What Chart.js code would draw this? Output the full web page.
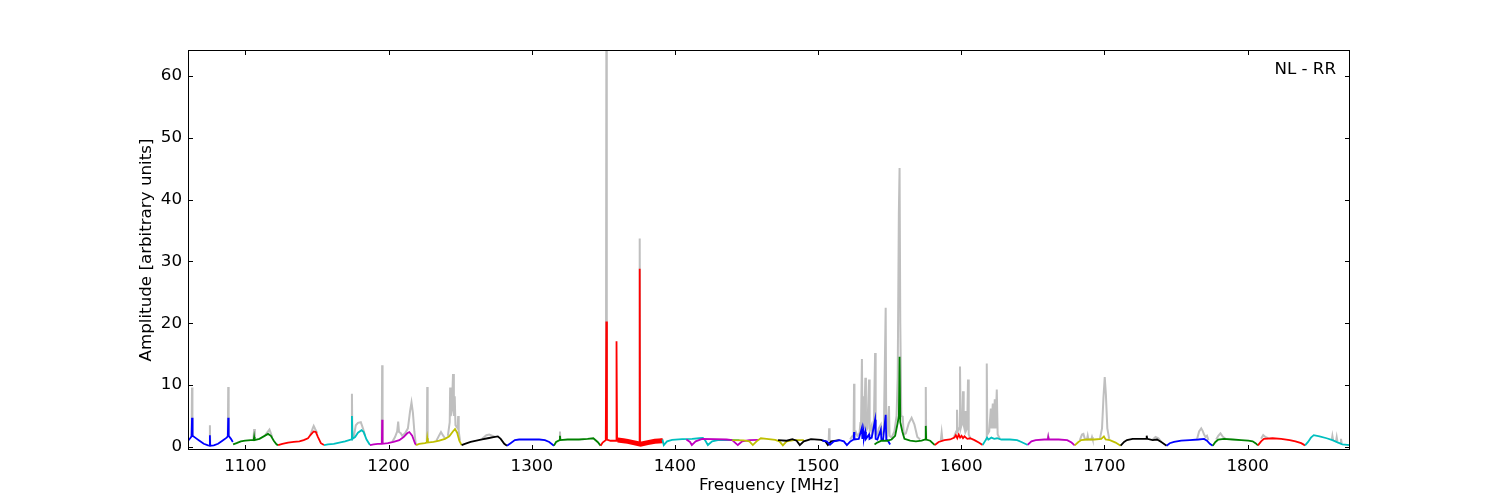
<!DOCTYPE html>
<html>
<head>
<meta charset="utf-8">
<title>NL - RR bandpass</title>
<script src="https://cdn.jsdelivr.net/npm/chart.js@4.4.1/dist/chart.umd.min.js"></script>
<style>
  html, body { margin: 0; padding: 0; background: #fff; }
  canvas { display: block; }
</style>
</head>
<body>
<canvas id="bandChart" width="1500" height="500"></canvas>
<script>
// axis ticks
const xTicks = [1100, 1200, 1300, 1400, 1500, 1600, 1700, 1800];
const yTicks = [0, 10, 20, 30, 40, 50, 60];

// subbands, [MHz, amplitude]
const sb01 = [[1060.0,1.0],[1061.4,1.4],[1062.4,1.7],[1062.7,4.7],[1063.1,1.8],[1064.9,1.5],[1067.9,1.0],[1070.9,0.5],[1073.9,0.25],[1075.0,0.2],[1075.2,1.9],[1075.4,0.2],[1077.9,0.25],[1080.9,0.5],[1083.9,1.0],[1086.9,1.5],[1087.7,1.7],[1088.0,4.7],[1088.3,1.8],[1089.9,1.3],[1091.2,0.8]];
const sb02 = [[1091.4,0.4],[1093.8,0.6],[1096.8,0.9],[1099.8,1.0],[1103.8,1.1],[1105.8,1.1],[1106.1,1.6],[1106.4,1.1],[1109.8,1.3],[1112.8,1.7],[1115.8,2.1],[1117.8,1.8],[1119.8,1.0],[1121.8,0.4],[1122.8,0.3]];
const sb03 = [[1122.8,0.3],[1125.8,0.5],[1129.8,0.7],[1133.8,0.8],[1137.7,0.9],[1140.7,1.1],[1143.7,1.4],[1145.7,2.0],[1147.7,2.5],[1149.2,2.4],[1150.7,1.6],[1152.7,0.6],[1154.9,0.3]];
const sb04 = [[1154.9,0.3],[1157.7,0.4],[1161.7,0.5],[1165.6,0.7],[1169.6,0.9],[1174.1,1.2],[1174.4,5.0],[1174.8,1.3],[1176.6,1.6],[1178.6,2.3],[1181.1,2.7],[1182.6,2.4],[1184.6,1.2],[1187.0,0.3]];
const sb05 = [[1187.0,0.3],[1189.6,0.4],[1192.5,0.5],[1195.3,0.5],[1195.5,4.4],[1195.8,0.5],[1199.5,0.6],[1203.5,0.8],[1207.5,1.1],[1210.5,1.6],[1213.0,2.2],[1214.5,2.4],[1216.5,1.8],[1218.4,0.6],[1219.2,0.3]];
const sb06 = [[1219.2,0.3],[1221.4,0.5],[1225.4,0.6],[1226.7,0.7],[1227.0,1.4],[1227.4,0.7],[1231.4,0.8],[1235.4,1.0],[1239.4,1.3],[1242.4,1.7],[1244.9,2.5],[1246.4,2.9],[1247.9,2.3],[1249.4,1.0],[1251.0,0.3]];
const sb07 = [[1251.0,0.3],[1253.3,0.5],[1257.3,0.8],[1261.3,1.0],[1265.3,1.2],[1269.3,1.4],[1273.3,1.6],[1276.3,1.7],[1278.3,1.3],[1280.8,0.5],[1282.7,0.2]];
const sb08 = [[1282.7,0.2],[1285.2,0.6],[1288.2,1.1],[1291.2,1.2],[1299.2,1.2],[1305.2,1.2],[1309.2,1.1],[1312.2,0.8],[1315.5,0.2]];
const sb09 = [[1315.5,0.2],[1317.0,0.8],[1319.4,1.1],[1319.7,1.8],[1320.0,1.1],[1325,1.2],[1333,1.2],[1339,1.3],[1343,1.4],[1346,0.8],[1348.1,0.2]];
const sb10 = [[1348.1,0.2],[1349.5,0.7],[1351.7,1.1],[1352.1,20.3],[1352.5,1.2],[1355,1.0],[1358.9,1.0],[1359.2,17.1],[1359.6,1.0],[1362,0.9],[1367,0.8],[1371,0.7],[1375.2,0.6],[1375.4,28.8],[1375.6,0.5],[1379,0.7],[1384,0.9],[1388,1.1],[1391.4,1.2]];
const sb10noise = [[1360,1.1],[1364,1.0],[1367,0.9],[1371,0.7],[1376,0.45],[1381,0.7],[1386,0.9],[1391.4,1.0]];
const sb11 = [[1391.3,1.2],[1392.2,0.3],[1394.5,0.9],[1398,1.15],[1405,1.25],[1412,1.3],[1417,1.4],[1419.5,1.45],[1421,1.1],[1423,0.3],[1426,0.9],[1430,1.1],[1438,1.15],[1445,1.1]];
const sb12 = [[1408,1.2],[1410.5,0.8],[1411.8,0.3],[1414.5,0.9],[1419,1.3],[1428,1.25],[1436,1.2],[1440,1.1],[1443.9,0.3],[1447,0.9],[1452,1.1],[1458,1.15]];
const sb13 = [[1440,1.1],[1448,1.05],[1452,0.9],[1454.4,0.3],[1457,0.9],[1460,1.4],[1464,1.3],[1470,1.15],[1473,0.9],[1475.4,0.25],[1478,0.9],[1483,1.1],[1490,1.1]];
const sb14 = [[1472,1.1],[1478,1.0],[1482,1.25],[1485,1.0],[1487.2,0.3],[1490,0.9],[1495,1.25],[1502,1.15],[1505,0.9],[1506.8,0.3],[1509,0.9],[1515,1.1]];
const sb15 = [[1503,1.0],[1506,0.9],[1508.3,0.35],[1511,0.9],[1515,1.1],[1518,0.9],[1520.1,0.3],[1522.5,0.9],[1524.8,1.2],[1525.1,2.4],[1525.4,1.2],[1528.4,1.3],[1530.6,3.1],[1530.9,1.3],[1531.7,2.5],[1532.0,1.3],[1533.0,2.4],[1533.4,1.3],[1535.6,2.0],[1535.9,1.3],[1537.4,1.5],[1539.8,4.4],[1540.2,1.3],[1541.4,1.2],[1543.8,2.8],[1544.2,1.2],[1545.4,1.2],[1547.2,5.2],[1547.6,1.2],[1548.8,1.0],[1550.3,0.4]];
const sb16 = [[1539.4,0.4],[1541.3,0.7],[1544.3,1.0],[1548.3,1.0],[1551.3,1.2],[1553.8,1.8],[1555.6,3.9],[1556.4,5.0],[1556.9,14.6],[1557.4,4.0],[1558.8,2.5],[1560.3,1.3],[1564.3,1.0],[1568.3,0.9],[1572.3,1.0],[1574.9,1.2],[1575.2,3.4],[1575.5,1.2],[1578.3,1.0],[1581.5,0.3]];
const sb17 = [[1581.5,0.3],[1584.2,0.8],[1588.2,1.1],[1592.2,1.2],[1595.2,1.5],[1596.2,1.9],[1597.2,1.4],[1598.2,2.0],[1599.2,1.5],[1600.2,1.8],[1601.2,1.4],[1602.2,1.7],[1604.2,1.3],[1606.2,1.4],[1609.2,1.1],[1612.2,0.7],[1614.9,0.3]];
const sb18 = [[1614.9,0.3],[1617,1.1],[1618,1.5],[1619,1.2],[1621,1.5],[1623,1.3],[1625,1.4],[1628,1.2],[1634,1.2],[1639,1.1],[1642,0.8],[1646.4,0.3]];
const sb19 = [[1646.4,0.35],[1649,0.9],[1652,1.1],[1658,1.2],[1660.5,1.2],[1660.7,1.5],[1660.9,1.2],[1668,1.2],[1674,1.1],[1677,0.7],[1679.2,0.25]];
const sb20 = [[1679.2,0.25],[1681.8,0.8],[1683.8,1.1],[1687.8,1.2],[1692.8,1.2],[1697.8,1.3],[1699.6,1.7],[1700.8,1.2],[1703.8,1.1],[1707.8,0.7],[1711.3,0.2]];
const sb21 = [[1711.3,0.2],[1713.7,0.8],[1715.7,1.1],[1719.7,1.3],[1723.7,1.3],[1729.1,1.3],[1729.5,1.8],[1729.9,1.3],[1733.7,1.1],[1736.7,1.2],[1739.7,0.8],[1743.4,0.2]];
const sb22 = [[1743.4,0.2],[1745.6,0.6],[1748.6,0.8],[1753.6,1.0],[1759.6,1.1],[1765.6,1.2],[1769.6,1.3],[1771.6,1.0],[1773.6,0.5],[1775.6,0.2]];
const sb23 = [[1775.6,0.2],[1777.5,0.8],[1779.5,1.2],[1783.5,1.3],[1789.5,1.2],[1795.5,1.1],[1800.5,1.0],[1803.5,0.9],[1805.5,0.6],[1807.2,0.25]];
const sb24 = [[1807.2,0.25],[1809.4,0.9],[1811.4,1.3],[1817.4,1.4],[1823.4,1.3],[1829.4,1.1],[1833.4,0.9],[1837.4,0.6],[1840.1,0.25]];
const sb25 = [[1840.1,0.25],[1842.2,0.8],[1844.2,1.5],[1846.2,1.9],[1850.2,1.7],[1855.2,1.4],[1859.2,1.1],[1863.2,0.7],[1866.2,0.4],[1871.5,0.3]];

// raw (unflagged) spectrum where it shows above the subbands; null = gap
const rawSpec = [
  [1062.4,1.7],[1062.7,9.6],[1063.0,1.7], null,
  [1075.0,0.2],[1075.2,3.5],[1075.4,0.2], null,
  [1087.7,1.6],[1088.0,9.7],[1088.3,1.6], null,
  [1105.6,1.1],[1106.1,2.9],[1106.6,1.1], null,
  [1113.8,1.9],[1115.8,2.5],[1116.8,2.8],[1117.8,2.2],[1118.8,1.5], null,
  [1145.2,1.8],[1147.0,3.0],[1147.7,3.4],[1148.7,2.9],[1150.2,2.2], null,
  [1174.1,1.2],[1174.4,8.6],[1174.7,1.3], null,
  [1175.6,1.5],[1177.1,3.5],[1178.6,3.9],[1180.6,4.0],[1182.1,3.0],[1183.6,1.8], null,
  [1195.2,0.5],[1195.5,13.2],[1195.8,0.5], null,
  [1202.5,0.8],[1204.5,1.6],[1206.0,2.5],[1206.7,4.1],[1207.3,2.4],[1208.5,2.2],[1209.5,1.8],[1211.5,2.2],[1213.5,3.0],[1215.0,5.8],[1216.0,7.2],[1217.0,5.5],[1218.0,2.5],[1219.0,0.4], null,
  [1226.7,0.7],[1227.0,9.7],[1227.3,0.7], null,
  [1233.4,1.0],[1235.4,1.9],[1236.6,2.4],[1237.9,1.9],[1239.4,1.4], null,
  [1241.4,1.8],[1242.7,4.0],[1243.0,9.6],[1243.4,5.0],[1244.2,6.0],[1245.0,11.8],[1245.6,5.0],[1246.2,8.2],[1246.7,3.5],[1248.2,3.0],[1248.6,5.0],[1249.0,2.5],[1249.9,1.0], null,
  [1265.3,1.3],[1268.3,1.9],[1270.3,2.0],[1272.3,1.8],[1274.3,1.6], null,
  [1319.4,1.1],[1319.7,2.5],[1320.0,1.1], null,
  [1351.8,1.1],[1352.1,66],[1352.4,1.2], null,
  [1375.1,0.6],[1375.4,33.7],[1375.7,0.5], null,
  [1507.4,1.0],[1507.7,3.0],[1508.0,1.0], null,
  [1522.4,1.2],[1523.4,1.6],[1524.8,2.0],[1525.1,10.2],[1525.4,2.0],[1526.4,2.4],[1527.4,1.8],[1528.9,2.2],[1529.6,4.0],[1529.9,2.2],[1530.6,14.2],[1531.0,3.0],[1531.6,8.2],[1532.1,3.0],[1533.0,11.2],[1533.4,2.5],[1534.4,3.0],[1535.6,10.9],[1536.0,2.5],[1537.4,3.5],[1537.9,2.0],[1538.9,3.0],[1539.8,15.2],[1540.2,2.5],[1541.4,2.0],[1542.4,3.0],[1543.8,3.6],[1544.4,2.0],[1545.9,2.5],[1547.2,22.5],[1547.6,2.5],[1548.3,2.0],[1549.5,6.6],[1549.9,1.8],[1551.3,1.5],[1553.3,2.5],[1554.8,5.0],[1555.6,11.4],[1556.4,38],[1556.9,45.1],[1557.4,20],[1558.1,5.0],[1559.1,4.9],[1559.8,2.0],[1561.3,2.2],[1563.3,3.8],[1565.3,4.7],[1567.3,3.6],[1569.3,1.6],[1571.3,1.2], null,
  [1574.9,1.2],[1575.2,9.7],[1575.5,1.2], null,
  [1585.7,1.0],[1586.3,2.3],[1586.9,1.0], null,
  [1594.8,1.5],[1596.4,2.5],[1597.0,6.0],[1597.5,2.5],[1598.6,3.0],[1599.1,13.0],[1599.6,3.0],[1600.7,4.0],[1601.2,9.0],[1601.7,3.5],[1602.2,3.0],[1602.6,5.8],[1603.1,2.5],[1604.1,3.0],[1604.7,10.9],[1605.2,2.0],[1606.5,1.3], null,
  [1617.4,1.2],[1617.8,13.5],[1618.2,2.0],[1619.5,2.5],[1620.6,6.2],[1621.1,3.0],[1622.0,7.0],[1622.5,3.0],[1623.4,7.7],[1623.9,3.0],[1624.8,9.3],[1625.4,2.0],[1627.0,1.3], null,
  [1660.3,1.2],[1660.7,1.7],[1661.1,1.2], null,
  [1682.8,1.1],[1684.3,2.0],[1685.3,2.1],[1686.3,1.3],[1687.8,1.2],[1688.3,1.8],[1688.8,1.2],[1690.8,1.2],[1691.3,1.6],[1691.8,1.2], null,
  [1696.8,1.3],[1698.3,3.0],[1699.3,8.0],[1700.2,11.3],[1701.0,8.5],[1702.0,3.0],[1703.3,1.3], null,
  [1733.7,1.2],[1735.7,1.6],[1737.7,1.4],[1739.7,0.8], null,
  [1764.6,1.2],[1766.1,2.5],[1767.6,3.0],[1768.6,2.6],[1769.6,2.0],[1770.6,1.6],[1771.6,1.8],[1772.6,1.1], null,
  [1778.0,1.2],[1779.5,1.8],[1781.0,2.2],[1782.5,1.7],[1784.5,1.3], null,
  [1809.4,1.3],[1810.9,1.9],[1812.4,1.6],[1814.4,1.4], null,
  [1858.7,1.1],[1859.2,1.8],[1859.7,1.1], null,
  [1861.7,0.9],[1862.2,1.6],[1862.7,0.9], null,
  [1864.7,0.6],[1865.2,1.3],[1865.7,0.6]
];

const subbands = [sb01, sb02, sb03, sb04, sb05, sb06, sb07, sb08, sb09, sb10, sb11, sb12, sb13,
                  sb14, sb15, sb16, sb17, sb18, sb19, sb20, sb21, sb22, sb23, sb24, sb25];
// matplotlib classic colour cycle b g r c m y k
const cycle = ['#0000ff', '#008000', '#ff0000', '#00bfbf', '#bf00bf', '#bfbf00', '#000000'];

function toPoints(arr) {
  let lastX = 0;
  return arr.map(p => {
    if (p === null) return { x: lastX, y: null };
    lastX = p[0];
    return { x: p[0], y: p[1] };
  });
}

const FONT = { family: '"DejaVu Sans", sans-serif', size: 16.7 };

const datasets = [{
  data: toPoints(rawSpec), borderColor: '#bfbfbf', borderWidth: 2, order: 100, spanGaps: false
}];
subbands.forEach((sb, i) => {
  datasets.push({ data: toPoints(sb), borderColor: cycle[i % 7], borderWidth: 1.8, order: 60 - i });
});
datasets.push({ data: toPoints(sb10noise), borderColor: cycle[2], borderWidth: 5, order: 60 - 9 });

const framePlugin = {
  id: 'frame',
  afterDraw(chart) {
    const { ctx, chartArea: a, scales } = chart;
    ctx.save();
    ctx.strokeStyle = '#000';
    ctx.lineWidth = 1;
    ctx.strokeRect(a.left + 0.5, a.top + 0.5, a.right - a.left - 1, a.bottom - a.top - 1);
    ctx.beginPath();
    yTicks.forEach(v => {
      const py = Math.round(scales.y.getPixelForValue(v)) + 0.5;
      ctx.moveTo(a.left, py); ctx.lineTo(a.left + 5, py);
      ctx.moveTo(a.right, py); ctx.lineTo(a.right - 5, py);
    });
    xTicks.forEach(v => {
      const px = Math.round(scales.x.getPixelForValue(v)) + 0.5;
      ctx.moveTo(px, a.bottom); ctx.lineTo(px, a.bottom - 5);
      ctx.moveTo(px, a.top); ctx.lineTo(px, a.top + 5);
    });
    ctx.stroke();
    ctx.fillStyle = '#000';
    ctx.font = '16.7px "DejaVu Sans", sans-serif';
    ctx.textAlign = 'right';
    ctx.textBaseline = 'middle';
    ctx.fillText('NL - RR', a.right - 14, a.top + 20);
    ctx.restore();
  }
};

new Chart(document.getElementById('bandChart').getContext('2d'), {
  type: 'line',
  data: { datasets },
  options: {
    responsive: false,
    animation: false,
    devicePixelRatio: 1,
    layout: { padding: { left: 0, right: 150, top: 50, bottom: 0 } },
    elements: { point: { radius: 0 }, line: { tension: 0 } },
    plugins: { legend: { display: false }, tooltip: { enabled: false } },
    scales: {
      x: {
        type: 'linear', min: 1059.9, max: 1871.5,
        grid: { display: false, drawTicks: false },
        border: { display: false },
        afterBuildTicks: s => { s.ticks = xTicks.map(v => ({ value: v })); },
        afterFit: s => { s.height = 50; },
        ticks: { padding: 7, color: '#000', font: FONT, maxRotation: 0, autoSkip: false, callback: v => String(v) },
        title: { display: true, text: 'Frequency [MHz]', color: '#000', font: FONT, padding: { top: 0, bottom: 4 } }
      },
      y: {
        type: 'linear', min: -0.5, max: 64.2,
        grid: { display: false, drawTicks: false },
        border: { display: false },
        afterBuildTicks: s => { s.ticks = yTicks.map(v => ({ value: v })); },
        afterFit: s => { s.width = 188; },
        ticks: { padding: 6, color: '#000', font: FONT, callback: v => String(v) },
        title: { display: true, text: 'Amplitude [arbitrary units]', color: '#000', font: FONT, padding: { top: 137, bottom: 0 } }
      }
    }
  },
  plugins: [framePlugin]
});
</script>
</body>
</html>
